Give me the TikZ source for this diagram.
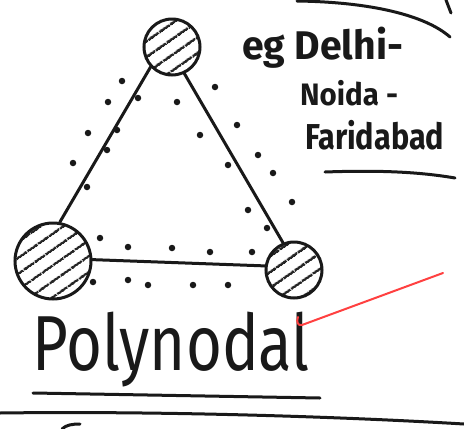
\documentclass[tikz,border=0pt]{standalone}
\usepackage{fontspec}
\setmainfont{Fira Sans}
\usetikzlibrary{patterns.meta}
\tikzset{
  ink/.style={line width=3pt, line cap=round, line join=round, black!90},
  hub/.style={circle, draw=black!90, line width=3pt, inner sep=0pt,
    pattern={Lines[angle=35,distance=13pt,line width=2.6pt]}, pattern color=black!85},
  dot/.style={circle, fill=black!90, inner sep=0pt, minimum size=6.5pt},
  hand/.style={text=black!90, inner sep=0pt, anchor=west},
  redmark/.style={line width=2pt, line cap=round, red!75!white}
}
\begin{document}
\begin{tikzpicture}[x=1pt,y=-1pt]
\useasboundingbox (0,0) rectangle (464,429);
\fill[white] (0,0) rectangle (464,429);
% hubs
\node[hub, minimum size=56pt] (A) at (172,47) {};
\node[hub, minimum size=76pt] (B) at (53,261) {};
\node[hub, minimum size=56pt] (C) at (294,270) {};
% connectors
\draw[ink] (A.223) -- (B.80);
\draw[ink] (A.295) -- (C.112);
\draw[ink] (B.2) -- (C.172);
% dots
\foreach \p in {(122,81),(108,102),(138,98),(177,102),(215,87),(88,133),(117,130),
  (200,135),(237,125),(107,150),(73,163),(87,187),(228,165),(258,155),(273,173),
  (248,210),(292,202),(267,228),(128,247),(172,248),(210,252),(252,252),(100,238),
  (93,282),(128,280),(148,285),(193,285),(228,285)}
  \node[dot] at \p {};
% example text
\node[hand, font=\fontsize{40}{40}\selectfont\bfseries] (t1) at (242,48) {\scalebox{0.98}[1]{eg Delhi-}};
\node[hand, font=\fontsize{31}{31}\selectfont\bfseries] (t2) at (300,93) {\scalebox{0.95}[1]{Noida -}};
\node[hand, font=\fontsize{36}{36}\selectfont\bfseries] (t3) at (305,135) {\scalebox{0.85}[1]{Faridabad}};
\coordinate (u1) at (325,172);
\coordinate (u2) at (455,178);
\draw[ink] (u1) .. controls (380,170) and (420,172) .. (u2);
% top arc
\coordinate (a1) at (297,1);
\coordinate (a2) at (450,37);
\draw[ink] (a1) .. controls (370,2) and (425,15) .. (a2);
\coordinate (a3) at (446,0);
\coordinate (a4) at (451,13);
\draw[ink] (a3) -- (a4);
% title
\node[hand, font=\fontsize{78}{78}\selectfont] (title) at (32,350) {\scalebox{0.79}[1]{Polynodal}};
\coordinate (p1) at (33,393);
\coordinate (p2) at (320,398);
\draw[ink] (p1) -- (p2);
% red mark
\coordinate (r1) at (443,273);
\coordinate (r2) at (302,325);
\coordinate (r3) at (298,317);
\draw[redmark] (r1) -- (r2) .. controls (298,326) and (296,322) .. (r3);
% bottom line
\coordinate (b1) at (0,413);
\coordinate (b2) at (464,424);
\draw[ink] (b1) .. controls (150,411) and (330,416) .. (b2);
\coordinate (c1) at (62,429);
\coordinate (c2) at (80,424);
\draw[ink] (c1) .. controls (66,425) and (72,424) .. (c2);
\end{tikzpicture}
\end{document}
